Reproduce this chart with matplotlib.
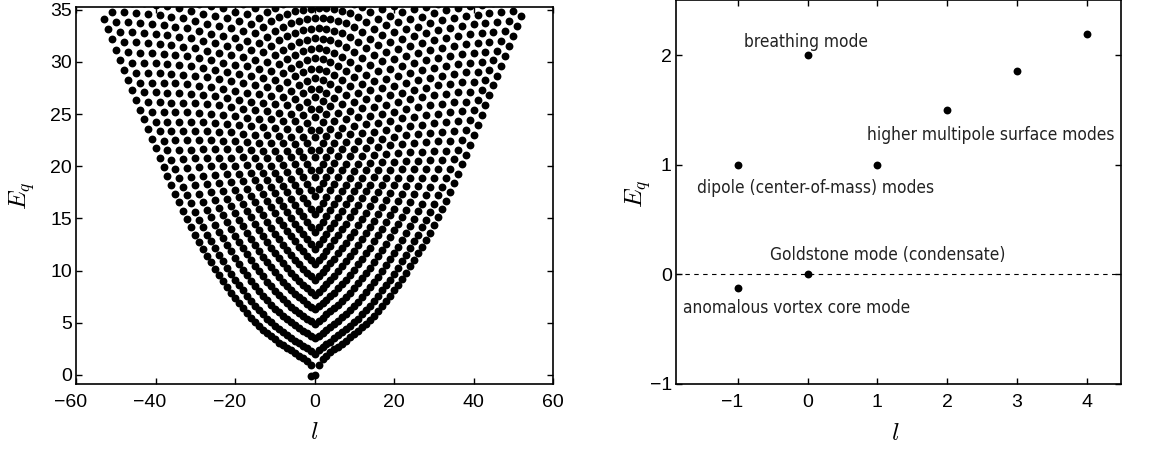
import matplotlib
matplotlib.use("Agg")
import matplotlib.pyplot as plt
from matplotlib.transforms import ScaledTranslation

# ------------------------
# Data
# ------------------------
# lowest (n=0) branch, l = -1, -2, ..., -53
E0_neg = [1.0, 1.3, 1.6, 1.85, 2.1, 2.35, 2.6, 2.85, 3.1, 3.4,
          3.7, 4.0, 4.35, 4.7, 5.1, 5.5, 5.95, 6.4, 6.9, 7.4,
          7.9, 8.45, 9.0, 9.6, 10.2, 10.8, 11.45, 12.1, 12.75, 13.45,
          14.2, 14.96, 15.74, 16.54, 17.36, 18.2, 19.06, 19.94, 20.83, 21.73,
          22.64, 23.56, 24.49, 25.43, 26.38, 27.33, 28.29, 29.25, 30.22, 31.19,
          32.17, 33.15, 34.13]
# lowest (n=0) branch, l = 1, 2, ..., 52
E0_pos = [1.0, 1.5, 1.86, 2.19, 2.45, 2.7, 3.0, 3.3, 3.6, 3.9,
          4.2, 4.55, 4.9, 5.3, 5.7, 6.15, 6.6, 7.1, 7.6, 8.1,
          8.65, 9.2, 9.8, 10.4, 11.0, 11.65, 12.3, 12.95, 13.65, 14.37,
          15.12, 15.9, 16.71, 17.55, 18.41, 19.29, 20.19, 21.11, 22.05, 23.0,
          23.95, 24.9, 25.85, 26.8, 27.75, 28.7, 29.65, 30.6, 31.55, 32.5,
          33.45, 34.4]
# apex energies (at l=0) of the higher radial branches n = 1, 2, ...
branch_E_l0 = [2.0, 3.5, 4.9, 6.3, 7.7, 9.1, 10.6, 12.1, 13.7, 15.4,
               17.2, 19.0, 20.9, 22.8, 24.7, 26.6, 28.5, 30.4, 32.3, 34.2]
# special low modes
goldstone = (0, 0.0)
anomalous = (-1, -0.12)

# right panel: lowest modes
mode_l = [-1, 0, 1, 2, 3, 4, 0, -1]
mode_E = [1.0, 2.0, 1.0, 1.5, 1.86, 2.19, 0.0, -0.12]
mode_labels = ["breathing mode", "higher multipole surface modes",
               "dipole (center-of-mass) modes", "Goldstone mode (condensate)",
               "anomalous vortex core mode"]
label_xy = [(-0.91, 2.075), (0.845, 1.224), (-1.59, 0.744), (-0.54, 0.13), (-1.78, -0.356)]

# ------------------------
# Build the point table for the left panel
# (branch n follows the n=0 curve, 2n steps further out in l,
#  lifted so that it passes through its own apex at l=0)
# ------------------------
ls, Es = [], []
for i, e in enumerate(E0_neg):
    ls.append(-(i + 1)); Es.append(e)
for i, e in enumerate(E0_pos):
    ls.append(i + 1); Es.append(e)
for n, e_l0 in enumerate(branch_E_l0, start=1):
    k = 2 * n
    ls.append(0); Es.append(e_l0)
    lift_pos = e_l0 - E0_pos[k - 1]
    for l in range(1, len(E0_pos) - k + 1):
        ls.append(l); Es.append(E0_pos[l + k - 1] + lift_pos)
    lift_neg = e_l0 - E0_neg[k - 1]
    for l in range(1, len(E0_neg) - k + 1):
        ls.append(-l); Es.append(E0_neg[l + k - 1] + lift_neg)
for p in (goldstone, anomalous):
    ls.append(p[0]); Es.append(p[1])

# ------------------------
# Plot
# ------------------------
plt.rcParams["mathtext.fontset"] = "cm"
plt.rcParams["font.family"] = ["Liberation Sans", "DejaVu Sans"]

fig = plt.figure(figsize=(11.7, 4.51), dpi=100)
ax1 = fig.add_axes([0.065, 0.148, 0.4077, 0.836])
ax2 = fig.add_axes([0.5778, 0.1486, 0.3803, 0.8503])

ax1.scatter(ls, Es, s=32, c="k", linewidths=0)
ax1.set_xlim(-60, 60)
ax1.set_ylim(-0.89, 35.25)
ax1.set_xticks(range(-60, 61, 20))
ax1.set_yticks(range(0, 36, 5))

ax2.axhline(0, color="k", lw=0.8, ls=(0, (4, 4)))
ax2.scatter(mode_l, mode_E, s=32, c="k", linewidths=0)
ax2.set_xlim(-1.885, 4.49)
ax2.set_ylim(-1, 2.5)
ax2.set_xticks(range(-1, 5))
ax2.set_yticks(range(-1, 3))
for txt, (x, y) in zip(mode_labels, label_xy):
    ax2.text(x, y, txt, fontsize=12.4, family=["DejaVu Sans"], fontstretch="condensed",
             ha="left", va="baseline", color="#222222")

for ax in (ax1, ax2):
    ax.tick_params(direction="in", top=True, right=True, length=4, width=1, labelsize=14)
    ax.tick_params(axis="x", pad=7)
    ax.tick_params(axis="y", pad=3)
    for sp in ax.spines.values():
        sp.set_linewidth(1.2)
    ax.set_xlabel(r"$l$", fontsize=18)
    ax.set_ylabel(r"$E_q$", fontsize=18)
    ax.xaxis.label.set_va("center")
    ax.yaxis.label.set_va("center")
    # negative x labels: digits centred on the tick, minus sign hanging left
    shift = ScaledTranslation(-4.1 / 72, 0, fig.dpi_scale_trans)
    for tick, val in zip(ax.xaxis.get_major_ticks(), ax.get_xticks()):
        if val < 0:
            tick.label1.set_transform(tick.label1.get_transform() + shift)

ax1.xaxis.set_label_coords(0.5, -0.1265)
ax1.yaxis.set_label_coords(-0.113, 0.50)
ax2.xaxis.set_label_coords(0.492, -0.128)
ax2.yaxis.set_label_coords(-0.0854, 0.495)

plt.savefig("out.png", dpi=100)
plt.close()
